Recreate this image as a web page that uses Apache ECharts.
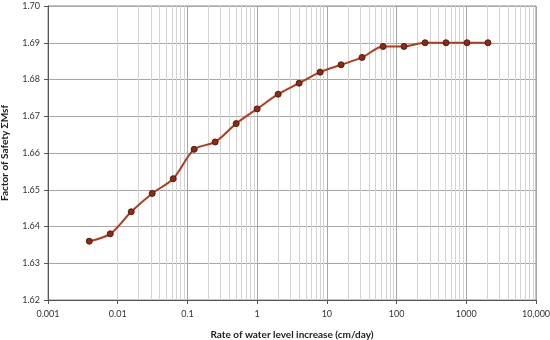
<!DOCTYPE html>
<html>
<head>
<meta charset="utf-8">
<script src="https://cdn.jsdelivr.net/npm/echarts@6/dist/echarts.min.js"></script>
<style>html,body{margin:0;padding:0;background:#fff;}#c{width:550px;height:340px;}</style>
</head>
<body>
<div id="c"></div>
<script>
// Data
const rates = [0.00390625, 0.0078125, 0.015625, 0.03125, 0.0625, 0.125, 0.25, 0.5, 1, 2, 4, 8, 16, 32, 64, 128, 256, 512, 1024, 2048];
const factorOfSafety = [1.636, 1.638, 1.644, 1.649, 1.653, 1.661, 1.663, 1.668, 1.672, 1.676, 1.679, 1.682, 1.684, 1.686, 1.689, 1.689, 1.690, 1.690, 1.690, 1.690];
const xTickLabels = {"0.001": "0.001", "0.01": "0.01", "0.1": "0.1", "1": "1", "10": "10", "100": "100", "1000": "1000", "10000": "10,000"};
const xTitle = "Rate of water level increase (cm/day)";
const yTitle = "Factor of Safety \u03A3Msf";

// minor log grid positions (2..9 of each decade)
const minorLines = [];
for (let e = -3; e < 4; e++) {
  for (let m = 2; m <= 9; m++) {
    minorLines.push({ xAxis: parseFloat((m * Math.pow(10, e)).toPrecision(6)) });
  }
}

const font = 'Lato';
const chart = echarts.init(document.getElementById('c'), null, { renderer: 'canvas' });
chart.setOption({
  animation: false,
  backgroundColor: '#ffffff',
  grid: { left: 48, right: 14, top: 6, bottom: 40, show: true, borderColor: '#8c8c8c', borderWidth: 1, containLabel: false, outerBoundsMode: 'none' },
  xAxis: {
    type: 'log', logBase: 10, min: 0.001, max: 10000,
    name: xTitle, nameLocation: 'middle', nameGap: 30,
    nameTextStyle: { fontFamily: font, fontWeight: 'bold', fontSize: 10, color: '#222' },
    axisLine: { lineStyle: { color: '#555', width: 1 } },
    axisTick: { show: true, length: 4, lineStyle: { color: '#555' } },
    axisLabel: {
      fontFamily: font, fontSize: 9, color: '#333', margin: 10,
      formatter: function (v) { const k = String(parseFloat(v.toPrecision(6))); return xTickLabels[k] !== undefined ? xTickLabels[k] : k; }
    },
    splitLine: { show: true, lineStyle: { color: '#a6a6a6', width: 1 } }
  },
  yAxis: {
    type: 'value', min: 1.62, max: 1.70, interval: 0.01,
    name: yTitle, nameLocation: 'middle', nameGap: 38, nameRotate: 90,
    nameTextStyle: { fontFamily: font, fontWeight: 'bold', fontSize: 10, color: '#222' },
    axisLine: { show: true, lineStyle: { color: '#555', width: 1 } },
    axisTick: { show: true, length: 4, lineStyle: { color: '#555' } },
    axisLabel: { fontFamily: font, fontSize: 9, color: '#333', margin: 8, formatter: function (v) { return v.toFixed(2); } },
    splitLine: { show: true, lineStyle: { color: '#a6a6a6', width: 1 } }
  },
  series: [
    {
      type: 'line', data: [], silent: true, z: 1,
      markLine: {
        silent: true, symbol: ['none', 'none'], label: { show: false },
        lineStyle: { color: '#d4d4d4', width: 1, type: 'solid' },
        data: minorLines, animation: false
      }
    },
    {
      type: 'line', z: 5,
      data: rates.map((r, i) => [r, factorOfSafety[i]]),
      smooth: 0.3,
      lineStyle: { color: '#b8391c', width: 2 },
      symbol: 'circle', symbolSize: 6,
      itemStyle: { color: '#8e2a12', borderColor: '#5a1a0a', borderWidth: 1 }
    }
  ]
});
</script>
</body>
</html>
